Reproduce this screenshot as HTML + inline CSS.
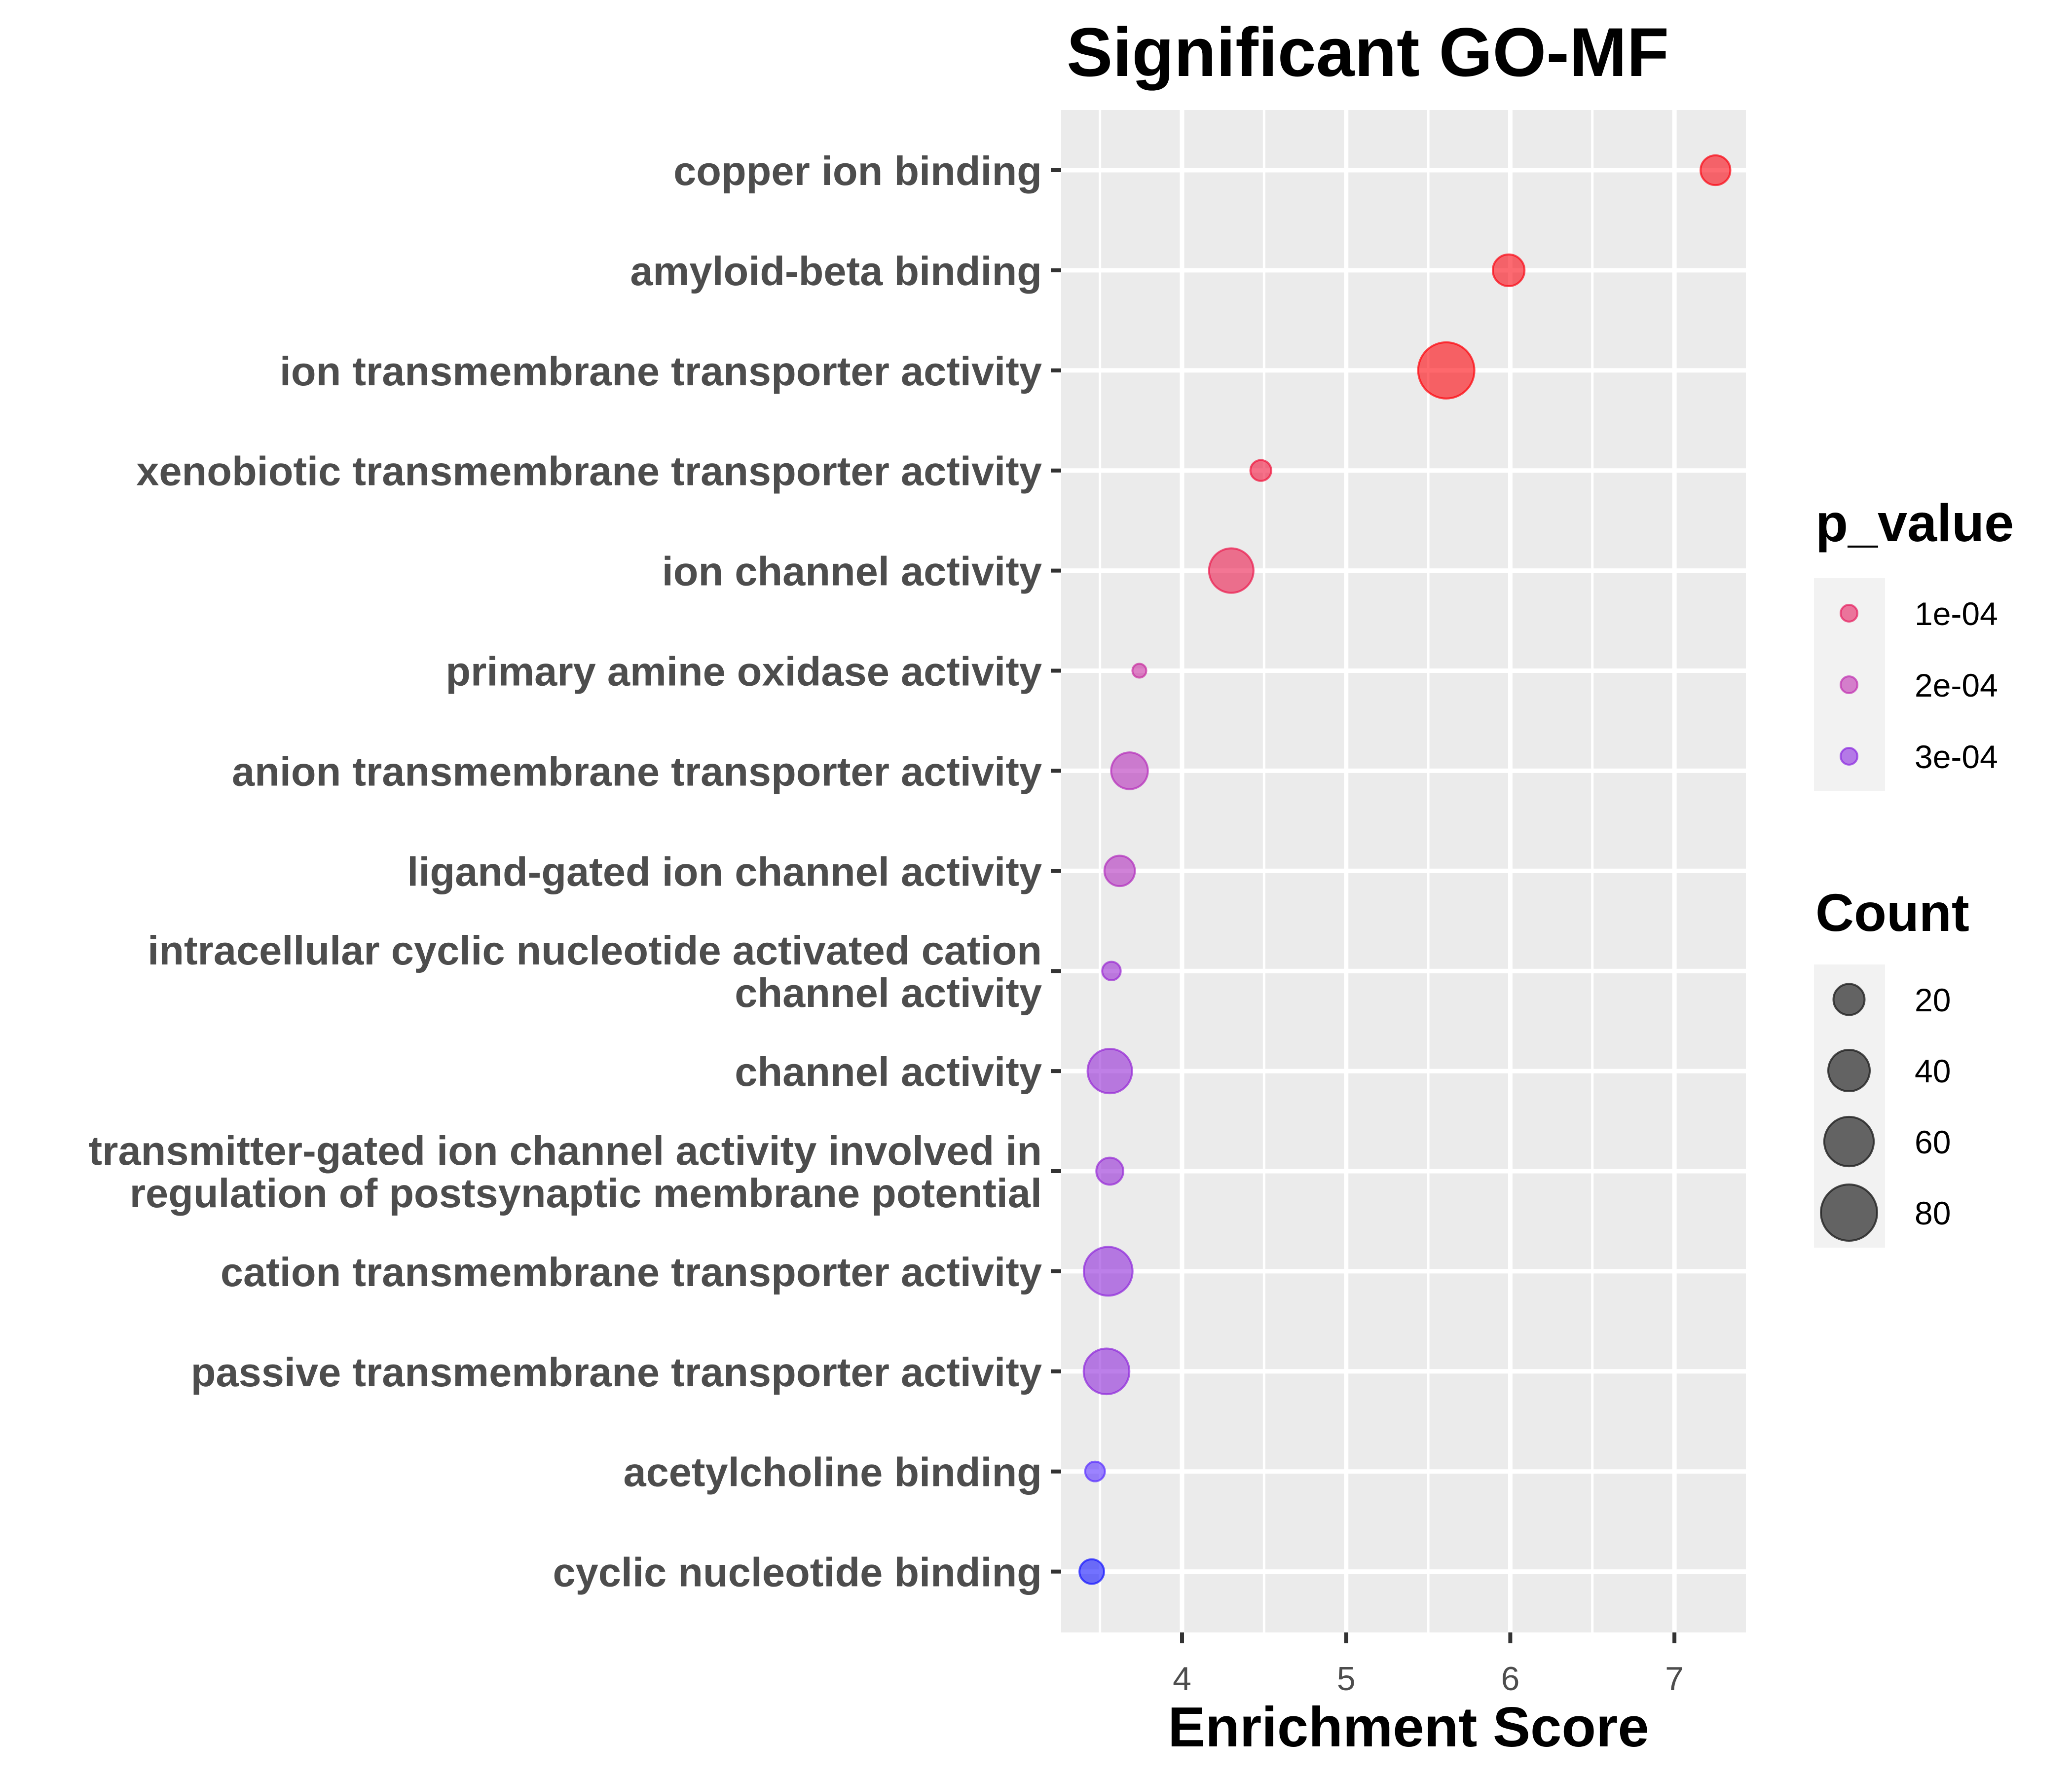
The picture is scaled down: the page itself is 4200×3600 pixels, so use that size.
<!DOCTYPE html>
<html><head><meta charset="utf-8"><style>
html,body{margin:0;padding:0;background:#fff;}
svg{display:block;font-family:"Liberation Sans",Arial,sans-serif;}
</style></head><body>
<svg id="chart" width="4200" height="3600" viewBox="0 0 4200 3600">
<text x="2162" y="154" font-size="140" font-weight="bold" fill="#000">Significant GO-MF</text>
<rect x="2151" y="223" width="1388" height="3086" fill="#ebebeb"/>
<g id="grid"></g>
<g id="yaxis"></g>
<g id="xaxis"></g>
<g id="points"></g>
<text x="2855" y="3540" font-size="114" font-weight="bold" text-anchor="middle" fill="#000">Enrichment Score</text>
<g id="legend"></g>
</svg>
<script>
const categories = [
 ["copper ion binding"],
 ["amyloid-beta binding"],
 ["ion transmembrane transporter activity"],
 ["xenobiotic transmembrane transporter activity"],
 ["ion channel activity"],
 ["primary amine oxidase activity"],
 ["anion transmembrane transporter activity"],
 ["ligand-gated ion channel activity"],
 ["intracellular cyclic nucleotide activated cation","channel activity"],
 ["channel activity"],
 ["transmitter-gated ion channel activity involved in","regulation of postsynaptic membrane potential"],
 ["cation transmembrane transporter activity"],
 ["passive transmembrane transporter activity"],
 ["acetylcholine binding"],
 ["cyclic nucleotide binding"]
];
const enrichment = [7.25,5.99,5.61,4.48,4.30,3.74,3.68,3.62,3.57,3.56,3.56,3.55,3.54,3.47,3.45];
const counts = [18,21,80,7,47,2,30,19,5,47,14,58,50,6,11];
const pvalues = [2e-5,2e-5,1e-5,6e-5,8e-5,1.8e-4,2.2e-4,2.3e-4,2.7e-4,2.8e-4,2.8e-4,2.9e-4,2.9e-4,3.45e-4,3.7e-4];
const xTicks = [4,5,6,7];
const pLegend = [1e-4,2e-4,3e-4];
const pLegendLabels = ["1e-04","2e-04","3e-04"];
const countLegend = [20,40,60,80];

const NS="http://www.w3.org/2000/svg";
function mk(tag, attrs, parent){const e=document.createElementNS(NS,tag);for(const k in attrs)e.setAttribute(k,attrs[k]);parent.appendChild(e);return e;}
const X0=2151,X1=3539,Y0=223,Y1=3309;
const xs = v => 2396 + (v-4)*332.7;
const ys = i => 345 + i*202.9;
const rs = c => 6 + 5.7*Math.sqrt(c);
const stops=[[0,[255,0,0]],[1e-4,[230,32,96]],[2e-4,[192,48,176]],[3e-4,[138,40,224]],[3.45e-4,[90,48,255]],[3.7e-4,[20,20,255]]];
function col(p){for(let i=1;i<stops.length;i++){if(p<=stops[i][0]){const a=stops[i-1],b=stops[i];const t=(p-a[0])/(b[0]-a[0]);return 'rgb('+a[1].map((v,j)=>Math.round(v+(b[1][j]-v)*t)).join(',')+')';}}return 'rgb(20,20,255)';}

const grid=document.getElementById('grid');
for(let v=3.5;v<=7.5;v+=1){const x=xs(v);if(x>X0&&x<X1){const l=mk('line',{x1:x,x2:x,y1:Y0,y2:Y1,stroke:'#fff','stroke-width':5},grid);}}
xTicks.forEach(v=>{const l=mk('line',{x1:xs(v),x2:xs(v),y1:Y0,y2:Y1,stroke:'#fff','stroke-width':9},grid);});
categories.forEach((c,i)=>{const l=mk('line',{x1:X0,x2:X1,y1:ys(i),y2:ys(i),stroke:'#fff','stroke-width':9},grid);});

const ya=document.getElementById('yaxis');
categories.forEach((lines,i)=>{
 const y=ys(i);
 const t=mk('line',{x1:2130,x2:X0,y1:y,y2:y,stroke:'#333','stroke-width':8},ya);
 
 const tx=mk('text',{x:2112,'text-anchor':'end','font-size':83,'font-weight':'bold',fill:'#4d4d4d'},ya);
 
 const base = lines.length===1 ? y+30 : y-13;
 lines.forEach((s,k)=>{const ts=mk('tspan',{x:2112,y:base+k*86},tx);ts.textContent=s;});
});

const xa=document.getElementById('xaxis');
xTicks.forEach(v=>{
 const t=mk('line',{x1:xs(v),x2:xs(v),y1:Y1,y2:Y1+22,stroke:'#333','stroke-width':8},xa);
 
 const l=mk('text',{x:xs(v),y:3426,'text-anchor':'middle','font-size':68,fill:'#4d4d4d'},xa);
 
 l.textContent=v;
});

const pts=document.getElementById('points');
enrichment.forEach((v,i)=>{
 const c=col(pvalues[i]);
 const p=mk('circle',{cx:xs(v),cy:ys(i),r:rs(counts[i]),fill:c,'fill-opacity':0.6,stroke:c,'stroke-opacity':0.7,'stroke-width':4},pts);
 
 
});

const lg=document.getElementById('legend');
let t=mk('text',{x:3680,y:1097,'font-size':108,'font-weight':'bold',fill:'#000'},lg);
t.textContent='p_value';
let b=mk('rect',{x:3677,y:1172,width:144,height:431,fill:'#f2f2f2'},lg);

pLegend.forEach((p,k)=>{
 const y=1243+k*145;const c=col(p);
 const d=mk('circle',{cx:3748,cy:y,r:17,fill:c,'fill-opacity':0.6,stroke:c,'stroke-opacity':0.7,'stroke-width':4},lg);
 
 const l=mk('text',{x:3881,y:y+24,'font-size':66,fill:'#000'},lg);
 
 l.textContent=pLegendLabels[k];
});
t=mk('text',{x:3680,y:1887,'font-size':108,'font-weight':'bold',fill:'#000'},lg);
t.textContent='Count';
b=mk('rect',{x:3677,y:1955,width:144,height:574,fill:'#f2f2f2'},lg);

countLegend.forEach((c,k)=>{
 const y=2026+k*144;
 const d=mk('circle',{cx:3748,cy:y,r:rs(c),fill:'#333','fill-opacity':0.75,stroke:'#222','stroke-opacity':0.8,'stroke-width':4},lg);
 
 const l=mk('text',{x:3881,y:y+24,'font-size':66,fill:'#000'},lg);
 
 l.textContent=c;
});
</script>
</body></html>
